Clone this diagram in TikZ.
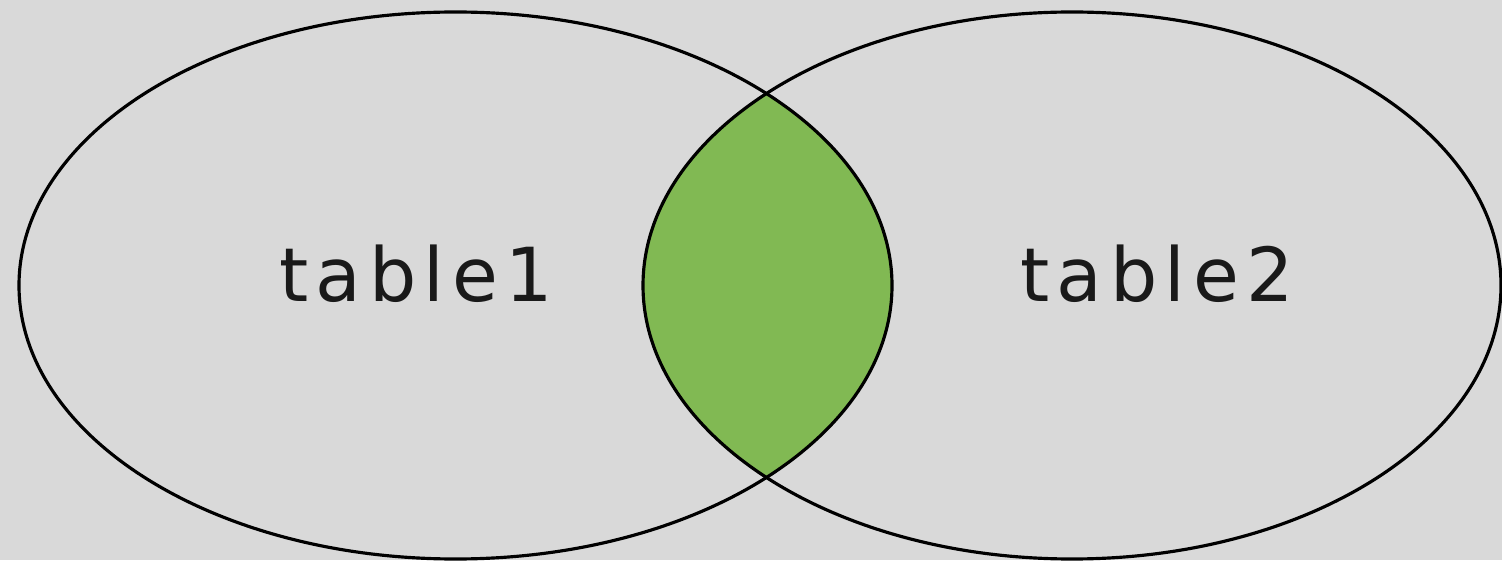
\documentclass[tikz,border=0pt]{standalone}
\usepackage{fontspec}
\usepackage{tikz}
\usetikzlibrary{positioning}
\newfontfamily\setfont[LetterSpace=10]{DejaVu Sans}
\definecolor{paper}{RGB}{217,217,217}
\definecolor{overlapgreen}{RGB}{129,185,83}

\begin{document}
\begin{tikzpicture}[
    setline/.style={line width=0.9pt, black},
    setlabel/.style={anchor=base, inner sep=0pt, font=\setfont\fontsize{21.2}{25}\selectfont, text=black!90}
  ]
        % Background
        \useasboundingbox (0,0) rectangle (15.02,5.6);
        \fill[paper] (0,0) rectangle (15.02,5.6);

        % Intersection
        \begin{scope}
          \clip (4.555,2.745) ellipse (4.365cm and 2.735cm);
          \fill[overlapgreen] (10.72,2.745) ellipse (4.29cm and 2.735cm);
        \end{scope}

        % Sets
        \draw[setline] (4.555,2.745) ellipse (4.365cm and 2.735cm);
        \draw[setline] (10.72,2.745) ellipse (4.29cm and 2.735cm);

        % Labels
        \node[setlabel] (table1) at (4.16,2.58) {table1};
        \node[setlabel] (table2) at (11.57,2.58) {table2};
      \end{tikzpicture}
\end{document}
